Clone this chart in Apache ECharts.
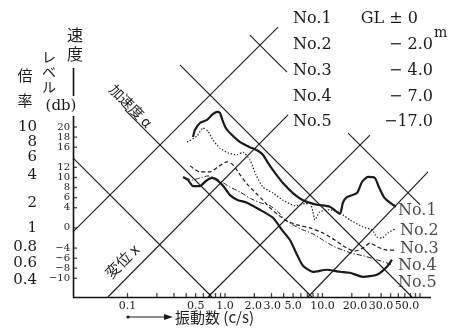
<!DOCTYPE html>
<html>
<head>
<meta charset="utf-8">
<script src="https://cdn.jsdelivr.net/npm/echarts@6/dist/echarts.min.js"></script>
<style>
html, body { margin: 0; padding: 0; background: #fff; }
#diagram { width: 453px; height: 332px; }
</style>
</head>
<body>
<div id="diagram"></div>
<script>
// 振動数 (c/s) の目盛
var freqTicks = [0.1,0.2,0.3,0.4,0.5,0.6,0.7,0.8,0.9,1,2,3,4,5,6,7,8,9,10,20,30,40,50,60,70,80,90,100];
var freqLabels = ['0.1', '0.5', '1.0', '2.0', '3.0', '5.0', '10.0', '20.0', '30.0', '50.0'];
// 原図では数字が詰めて書かれているので, 文字の置かれた位置 (c/s) を読み取ったもの
var freqLabelAt = [0.1, 0.5, 1, 1.95, 3.05, 5, 10, 21.5, 39.8, 73.6];

// 速度レベル (db) と 倍率
var dbTicks = [20, 18, 16, 12, 10, 8, 6, 4, 0, -4, -6, -8, -10];
var ratioLabels = ['10', '8', '6', '4', '2', '1', '0.8', '0.6', '0.4'];
var ratioPos = [20, 17, 14, 10.5, 5, 0, -3.8, -7, -10.3];

// 凡例 (深さ)
var names = ['No.1', 'No.2', 'No.3', 'No.4', 'No.5'];
var depths = ['GL ± 0', '− 2.0', '− 4.0', '− 7.0', '−17.0'];

// 各測点の曲線: 振動数 と 速度レベル
var no1Freq = [0.47,0.492,0.554,0.654,0.736,0.828,0.888,0.932,1.02,1.18,1.43,1.8,2.13,2.45,2.76,3.26,3.93,4.98,6.31,8.78,11.9,15.1,16.2,17.8,22.6,25.4,29.3,34.5,37.9,42.7,49.2,56.7];
var no1Db   = [18,19.4,20.8,21.4,22.4,23,22.8,21.6,19.8,18.4,17,16,15.4,14.5,12.9,10.9,8.9,6.9,5.5,4.6,4.2,2.8,5,6.1,6.9,9.1,10.1,9.9,8.1,6.1,5,4.2];

var no2Freq = [0.408,0.516,0.595,0.669,0.753,0.888,1.07,1.33,1.53,1.8,2.08,2.45,3.11,3.93,5.22,6.61,7.44,7.99,8.37,9.42,11.9,15.1,19.1,26,32.2,36.2,40.7,47,55.4];
var no2Db   = [17,18.2,19.8,19.2,17.4,15.8,14.9,14.5,15,13.5,10.5,8.1,6.9,5.5,4.4,4.8,4.8,3.2,1.6,3.2,3.6,3,1.6,0.2,-0.4,-1.8,-2,-1,-0.2];

var no3Freq = [0.438,0.554,0.702,0.848,1.05,1.21,1.43,1.72,2.08,2.45,2.89,3.5,4.32,5.48,7.44,10.1,13.4,17,21.5,26,30.7,37.1,45.9,55.4];
var no3Db   = [12.3,11.1,11.1,12.1,13.1,12.5,10.5,8.5,6.9,5.5,4,2.6,1.4,0.6,0,-1,-2.4,-3.8,-4.6,-4,-3,-3.8,-4.4,-4.4];

var no4Freq = [0.389,0.459,0.554,0.669,0.789,0.932,1.125,1.43,1.8,2.28,2.89,3.5,4.12,4.98,6.31,8,10.1,12.8,16.2,20.6,26,33,41.8,51.6];
var no4Db   = [9.9,9.5,9.9,10.3,9.9,9.1,8.1,7.1,5.9,5,4.4,3.2,1.6,0.6,-0.4,-1.2,-2.4,-3.6,-4.4,-5.1,-5.5,-6.1,-6.7,-7.3];

var no5Freq = [0.371,0.418,0.47,0.554,0.638,0.736,0.848,0.977,1.125,1.36,1.68,2.28,3.11,3.84,4.64,5.48,6.31,8,11.1,15.1,19.1,26,36.2,45.9,51.6];
var no5Db   = [10.1,9.5,8.3,8.3,9.3,9.9,9.3,8.1,6.5,5.5,5,3.6,2,-0.4,-2.4,-5.3,-7.5,-8.7,-8.3,-8.7,-8.9,-9.7,-9.3,-7.7,-6.3];

// 曲線ラベルの位置 (振動数, db)
var endLabelFreq = [59.5, 62.4, 62.4, 59.5, 59.5];
var endLabelDb = [3.4, -0.6, -4.2, -7.5, -10.9];

// 斜めの線: 加速度一定 (右下がり), 変位一定 (右上がり)  [f1, db1, f2, db2]
var accelLines = [
  [0.0276, 13.9, 0.736, -13.7],
  [0.0942, 23.4, 7.8, -13.7],
  [0.345, 32.3, 82.8, -13.7],
  [1.8, 38.2, 4.32, 30.9],
  [18.3, 18.8, 100, 4.6]
];
var dispLines = [
  [0.0276, -0.8, 3.5, 39.8],
  [0.063, -13.7, 4.43, 22.4],
  [0.669, -13.7, 30.7, 18.4],
  [7.1, -13.7, 121, 11.1]
];

var xMin = -1.559, xMax = 2.103, yMin = -13.7, yMax = 31.7;
var ink = '#1a1a1a';
var serif = 'DejaVu Serif';
var jp = 'Noto Sans CJK JP';

var myChart = echarts.init(document.getElementById('diagram'));

function pts(f, db) {
  return f.map(function (v, i) { return [Math.log10(v), db[i]]; });
}

var curves = [
  [no1Freq, no1Db, 2.2, 'solid'],
  [no2Freq, no2Db, 1.2, [1.4, 1.8]],
  [no3Freq, no3Db, 1.2, [4, 2.5]],
  [no4Freq, no4Db, 1.0, [5, 2, 1.2, 2]],
  [no5Freq, no5Db, 2.2, 'solid']
];

var series = [];
accelLines.concat(dispLines).forEach(function (l) {
  series.push({
    type: 'line', silent: true, clip: false, showSymbol: false,
    data: [[Math.log10(l[0]), l[1]], [Math.log10(l[2]), l[3]]],
    lineStyle: { color: ink, width: 1.1 }
  });
});
curves.forEach(function (c, i) {
  series.push({
    name: names[i], type: 'line', silent: true, clip: false, showSymbol: false,
    smooth: 0.2,
    data: pts(c[0], c[1]),
    lineStyle: { color: ink, width: c[2], type: c[3] }
  });
});
// 曲線の名前
series.push({
  type: 'scatter', silent: true, clip: false, symbolSize: 0,
  data: endLabelFreq.map(function (f, i) { return { value: [Math.log10(f), endLabelDb[i]], name: names[i] }; }),
  label: { show: true, position: 'right', distance: 0, formatter: '{b}',
    color: ink, fontFamily: serif, fontSize: 16 }
});
// 目盛 (内向き)
series.push({
  type: 'scatter', silent: true, clip: false, symbol: 'rect',
  symbolSize: [1.3, 4], symbolOffset: [0, -2],
  itemStyle: { color: ink },
  data: freqTicks.map(function (f) { return [Math.log10(f), yMin]; })
});
series.push({
  type: 'scatter', silent: true, clip: false, symbol: 'rect',
  symbolSize: [4, 1.3], symbolOffset: [2, 0],
  itemStyle: { color: ink },
  data: dbTicks.map(function (d) { return [xMin, d]; })
});

var graphics = [];
names.forEach(function (n, i) {
  var y = 19 + i * 25.8;
  graphics.push({ type: 'text', x: 293, y: y,
    style: { text: n, font: '16px "' + serif + '"', fill: ink, textAlign: 'left', textVerticalAlign: 'middle', align: 'left', verticalAlign: 'middle' } });
  graphics.push({ type: 'text', x: i === 0 ? 418 : 433, y: y,
    style: { text: depths[i], font: '16px "' + serif + '"', fill: ink, textAlign: 'right', textVerticalAlign: 'middle', align: 'right', verticalAlign: 'middle' } });
});
graphics.push(
  // 軸線 (縦軸は 速度 の下まで伸びる)
  { type: 'line', shape: { x1: 73.5, y1: 68, x2: 73.5, y2: 297.5 }, style: { stroke: '#111', lineWidth: 1.6 } },
  { type: 'line', shape: { x1: 73, y1: 297.5, x2: 431, y2: 297.5 }, style: { stroke: '#111', lineWidth: 1.6 } },
  { type: 'text', x: 434, y: 33, style: { text: 'm', font: '14px "' + serif + '"', fill: ink, align: 'left', verticalAlign: 'middle', textAlign: 'left', textVerticalAlign: 'middle' } },
  { type: 'text', x: 75, y: 44, style: { text: '速\n度', font: '16px "' + jp + '"', lineHeight: 19, fill: ink, align: 'center', verticalAlign: 'middle', textAlign: 'center', textVerticalAlign: 'middle' } },
  { type: 'text', x: 49, y: 72, style: { text: 'レ\nベ\nル', font: '14px "' + jp + '"', lineHeight: 15, fill: ink, align: 'center', verticalAlign: 'middle', textAlign: 'center', textVerticalAlign: 'middle' } },
  { type: 'text', x: 25, y: 75, style: { text: '倍', font: '15px "' + jp + '"', fill: ink, align: 'center', verticalAlign: 'middle', textAlign: 'center', textVerticalAlign: 'middle' } },
  { type: 'text', x: 25, y: 100, style: { text: '率', font: '15px "' + jp + '"', fill: ink, align: 'center', verticalAlign: 'middle', textAlign: 'center', textVerticalAlign: 'middle' } },
  { type: 'text', x: 131, y: 106, rotation: -Math.PI / 4, style: { text: '加速度 α', font: '14px "' + jp + '"', fill: ink, align: 'center', verticalAlign: 'middle', textAlign: 'center', textVerticalAlign: 'middle' } },
  { type: 'text', x: 122, y: 261, rotation: Math.PI / 4, style: { text: '変位 x', font: '15px "' + jp + '"', fill: ink, align: 'center', verticalAlign: 'middle', textAlign: 'center', textVerticalAlign: 'middle' } },
  { type: 'text', z: 60, x: 61, y: 106, style: { text: '(db)', font: '15px "' + serif + '"', fill: ink, backgroundColor: '#fff', padding: [2, 0, 3, 0], align: 'center', verticalAlign: 'middle', textAlign: 'center', textVerticalAlign: 'middle' } },
  { type: 'line', shape: { x1: 128, y1: 317, x2: 166, y2: 317 }, style: { stroke: ink, lineWidth: 1.2 } },
  { type: 'circle', shape: { cx: 128, cy: 317, r: 1.6 }, style: { fill: ink } },
  { type: 'polygon', shape: { points: [[164, 314], [173, 317], [164, 320]] }, style: { fill: ink } },
  { type: 'text', x: 175, y: 317, style: { text: '振動数 (c/s)', font: '15px "' + jp + '"', fill: ink, align: 'left', verticalAlign: 'middle', textAlign: 'left', textVerticalAlign: 'middle' } }
);

var option = {
  animation: false,
  backgroundColor: '#fff',
  grid: { left: 73, right: 23, top: 68, bottom: 35, containLabel: false, outerBoundsMode: 'none' },
  xAxis: {
    type: 'value', min: xMin, max: xMax,
    splitLine: { show: false },
    axisLine: { show: false, onZero: false },
    axisTick: { show: false },
    axisLabel: {
      customValues: freqLabelAt.map(Math.log10), margin: 4, showMaxLabel: true,
      color: ink, fontFamily: serif, fontSize: 11,
      formatter: function (v) {
        var best = 0;
        freqLabelAt.forEach(function (f, i) {
          if (Math.abs(Math.log10(f) - v) < Math.abs(Math.log10(freqLabelAt[best]) - v)) best = i;
        });
        return freqLabels[best];
      }
    }
  },
  yAxis: [{
    type: 'value', min: yMin, max: yMax, position: 'left',
    splitLine: { show: false },
    axisLine: { show: false, onZero: false },
    axisTick: { show: false },
    axisLabel: { customValues: dbTicks, margin: 3, color: ink, fontFamily: serif, fontSize: 10,
      formatter: function (v) { return v < 0 ? '−' + (-v) : String(v); } }
  }, {
    type: 'value', min: yMin, max: yMax, position: 'left', offset: 36,
    splitLine: { show: false },
    axisLine: { show: false, onZero: false },
    axisTick: { show: false },
    axisLabel: { customValues: ratioPos, margin: 0, color: ink, fontFamily: serif, fontSize: 15,
      formatter: function (v) {
        var i = ratioPos.indexOf(v);
        return i >= 0 ? ratioLabels[i] : '';
      } }
  }],
  series: series,
  graphic: graphics
};

myChart.setOption(option);
</script>
</body>
</html>
